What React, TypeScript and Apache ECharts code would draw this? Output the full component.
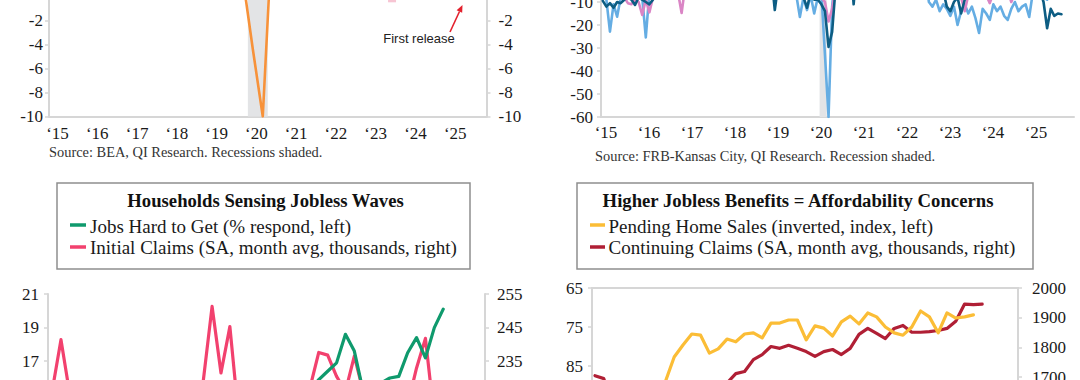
import React, { useEffect, useRef } from 'react';
import * as echarts from 'echarts';

const SERIF = '"Liberation Serif", "Times New Roman", serif';
const SANS = '"Liberation Sans", Arial, sans-serif';

// ---------- Panel 1 (top left): quarterly growth, from 2015Q1 ----------
const gdpFirstQuarter = '2015Q1';
const gdpGrowth = [
  3.3, 3.3, 1.3, 0.6, // 2015
  2.4, 1.2, 2.4, 2.0, // 2016
  2.0, 2.3, 3.2, 4.6, // 2017
  3.3, 2.1, 2.5, 0.6, // 2018
  2.2, 3.4, 4.6, 1.5, // 2019
  -4.4, -10.0, 6.3, 4.2, // 2020
  5.2, 6.2, 3.3, 7.0, // 2021
  1.2, 0.8, 2.7, 3.4, // 2022
  2.8, 2.4, 4.4, 3.2, // 2023
  1.6, 3.0, 3.1, 2.4, // 2024
  0.5, 3.3, // 2025
];
const gdpRecession = ['2020Q1', '2020Q2'];
const firstReleaseMark = [{ quarter: '2023Q3', value: -0.15 }];

const yearTickStart = 2015;
const yearTickLabels = ['‘15', '‘16', '‘17', '‘18', '‘19', '‘20', '‘21', '‘22', '‘23', '‘24', '‘25'];

// ---------- Panel 2 (top right): monthly survey indexes, from 2015-01 ----------
const kcFirstMonth = '2015-01';
const kcLight = [
  -5, -9, -22.9, -11, -16.4, -8, -7, -6, -8, -7, -6, -8, // 2015
  -25.4, -6, -4, -3, -5, -4, -2, -1, 2, 3, 5, 6, // 2016
  10, 14, 20, 12, 15, 18, 16, 20, 22, 18, 20, 24, // 2017
  22, 20, 25, 28, 26, 22, 20, 18, 16, 12, 10, 8, // 2018
  3, 2, 1, -2, -4, -6, -7, -16.5, -8, -13.5, -7, -15, // 2019
  -8, -6, -33, -60, -12, 5, 10, 15, 18, 20, 22, 25, // 2020
  28, 30, 35, 38, 40, 36, 34, 30, 32, 28, 26, 30, // 2021
  25, 22, 20, 18, 12, 8, 2, -10, -12, -9, -14, -11, // 2022
  -13, -16, -12, -20, -14, -11, -15, -12, -17, -23.5, -13, -15, // 2023
  -17.8, -11, -14, -12, -16, -17.8, -13, -10, -14, -12, -11, -16.5, // 2024
  -6, 2, -4, -8, -9, -3, 0, 2, -2, // 2025
];
const kcDark = [
  -9.5, -12, -10.5, -12.5, -10, -10.5, -9, -8, -9, -11.3, -8, -9, // 2015
  -10, -11, -9, -6, -5, -4, -3, -2, 0, 1, 2, 3, // 2016
  6, 8, 12, 10, 11, 13, 12, 14, 15, 13, 14, 16, // 2017
  15, 14, 16, 18, 17, 15, 13, 12, 10, 8, 6, 2, // 2018
  -13.5, -2, -3, -5, -6, -7, -8, -7, -8, -12.5, -6, -9, // 2019
  -9, -11, -14, -29.5, -23, -3, 2, 6, 8, 10, -11, 6, // 2020
  12, 15, 18, 20, 22, 20, 19, 17, 18, 16, 15, 17, // 2021
  14, 12, 10, 8, 5, 2, -2, -5, -6, -4, -7, -5, // 2022
  -12, -14, -10, -8, -15, -9, -7, -6, -8, -5, -7, -6, // 2023
  -8, -6, -5, -7, -6, -5, -4, -6, -5, -3, -2, -4, // 2024
  -3, -2, -5, -10, -21.4, -13, -16, -15, -15.3, // 2025
];
const kcPink = [
  -4, -5, -6, -7, -5, -6, -8, -10.5, -11, -9, -10, -15.6, // 2015
  -9, -14.5, -8, -6, -5, -4, -3, -4, -5, -6, -14.8, -3, // 2016
  2, 5, 8, 6, 7, 9, 8, 10, 11, 9, 10, 12, // 2017
  12, 11, 13, 14, 13, 12, 10, 9, 8, 6, 5, 3, // 2018
  0, -1, -2, -3, -4, -5, -6, -5, -6, -7, -5, -8, // 2019
  -7, -8, -10, -18.5, -13, -3, 2, 5, 6, 8, 7, 9, // 2020
  10, 12, 14, 16, 18, 17, 16, 15, 16, 14, 13, 15, // 2021
  12, 10, 9, 7, 5, 3, 0, -3, -4, -2, -5, -4, // 2022
  -6, -7, -5, -6, -8, -14, -7, -6, -8, -5, -6, -7, // 2023
  -10.5, -6, -5, -7, -6, -5, -10, -6, -5, -4, -6, -5, // 2024
  -4, -3, -6, -7, -5, -6, -7, -5, -6, // 2025
];
const kcRecession = ['2020-02', '2020-04'];

// ---------- Panels 3 & 4 (bottom): monthly, from 2021-12 ----------
const recentFirstMonth = '2021-12';
const jobsHardToGet = [
  11.4, // 2021-12
  11.6, 11.9, 11.2, 11.0, 11.3, 11.6, 11.1, 11.2, 12.0, 12.4, 12.1, 12.5, // 2022
  12.8, 12.1, 12.9, 12.8, 14.2, 14.4, 13.8, 14.0, 15.1, 14.5, 14.8, 14.3, // 2023
  14.9, 14.5, 14.4, 13.9, 15.3, 15.9, 16.4, 16.9, 18.6, 17.6, 15.2, 15.0, // 2024
  15.7, 16.0, 16.1, 17.5, 18.4, 17.2, 19.0, 20.1, // 2025
];
const initialClaims = [
  226, // 2021-12
  241.4, 225, 205, 195, 205, 222, 218, 212, 205, 215, 222, 216, // 2022
  200, 196, 210, 222, 229, 251.3, 231.5, 245.3, 218, 210, 214, 212, // 2023
  205, 210, 212, 215, 227, 237.6, 236.8, 230.5, 226, 236.5, 226, 222, // 2024
  220, 218, 225, 222, 233, 241.8, 218, 226, // 2025
];
const pendingHomeSales = [
  112, // 2021-12
  108, 104, 103, 100, 100, 91, 90, 89, 82.7, 79.6, 76.8, 77.1, // 2022
  81.7, 80.6, 78.1, 78.8, 76.8, 76.5, 77.8, 74.0, 74.0, 73.2, 73.2, 78.3, // 2023
  74.7, 75.3, 77.3, 73.7, 72.2, 74.2, 71.4, 72.4, 75.0, 76.5, 77.1, 75.0, // 2024
  70.9, 72.4, 76.5, 71.4, 72.7, 72.4, 71.9, null, // 2025
];
const continuingClaims = [
  1705, // 2021-12
  1695, 1600, 1480, 1410, 1350, 1360, 1380, 1400, 1380, 1390, 1480, 1620, // 2022
  1660, 1640, 1680, 1712, 1719, 1759, 1776, 1803, 1797, 1807, 1797, 1786, // 2023
  1770, 1786, 1793, 1776, 1797, 1844, 1864, 1847, 1830, 1864, 1874, 1851, // 2024
  1851, 1853, 1857, 1864, 1888, 1946, 1944, 1946, // 2025
];

// ---------- styles ----------
const ORANGE = '#f7923a';
const KC_LIGHT = '#65ade3';
const KC_DARK = '#0d5d83';
const KC_PINK = '#da85c5';
const GREEN = '#0f9a6d';
const ROSE = '#f2416e';
const GOLD = '#fbbd36';
const CRIMSON = '#b01f35';
const SHADE = '#e3e4e6';
const AXIS = '#d6d6d6';
const BOX = '#8e8e8e';
const LABEL = '#1a1a1a';

const quarterParts = (q: string) => q.split('Q').map(Number);
const quarterStart = (q: string) => { const [y, n] = quarterParts(q); return y + (n - 1) / 4; };
const quarterEnd = (q: string) => { const [y, n] = quarterParts(q); return y + n / 4; };
const quarterMid = (q: string) => (quarterStart(q) + quarterEnd(q)) / 2;
const monthStart = (m: string) => { const [y, n] = m.split('-').map(Number); return y + (n - 1) / 12; };
const monthMid = (m: string) => monthStart(m) + 1 / 24;

// labels of ticks that lie below the visible page are left blank
const labelIf = (test: (v: number) => boolean) => (v: number) => (test(v) ? String(v) : '');

function buildOption(): any {
  const q0 = quarterMid(gdpFirstQuarter);
  const gdpData = gdpGrowth.map((v, i) => [q0 + i / 4, v]);
  const markData = firstReleaseMark.map((d) => [quarterMid(d.quarter), d.value]);
  const m0 = monthMid(kcFirstMonth);
  const toKc = (arr: number[]) => arr.map((v, i) => [m0 + i / 12, v]);
  const toRecent = (arr: (number | null)[]) => arr.map((v, i) => [i, v]);
  void recentFirstMonth;

  const yearLabel = (v: number) => yearTickLabels[Math.round(v) - yearTickStart] ?? '';

  const xYear = (gridIndex: number, pad: number, margin: number) => ({
    type: 'value', gridIndex, min: 2015, max: 2026, interval: 1,
    splitLine: { show: false },
    axisLine: { show: true, onZero: false, lineStyle: { color: AXIS, width: 2 } },
    axisTick: { show: false },
    axisLabel: {
      formatter: yearLabel, fontFamily: SERIF, fontSize: 17, color: LABEL,
      margin, padding: [0, 0, 0, pad], showMinLabel: true, showMaxLabel: true,
    },
  });

  const yAx = (o: any) => ({
    type: 'value',
    splitLine: { show: false },
    axisLine: { show: true, onZero: false, lineStyle: { color: AXIS, width: 2 } },
    axisTick: { show: true, length: 4, lineStyle: { color: AXIS, width: 1.5 } },
    ...o,
    axisLabel: { fontFamily: SERIF, fontSize: 17, color: LABEL, formatter: (v: number) => String(v), ...o.axisLabel },
  });

  const line = (name: string, xi: number, yi: number, data: any[], color: string, width: number, z = 3) => ({
    type: 'line', name, xAxisIndex: xi, yAxisIndex: yi, data,
    symbol: 'none', showSymbol: false, z,
    lineStyle: { color, width, join: 'round', cap: 'round' },
    itemStyle: { color },
    emphasis: { disabled: true },
  });

  const shadeSeries = (xi: number, yi: number, from: number, to: number) => ({
    type: 'line', xAxisIndex: xi, yAxisIndex: yi, data: [], z: 1, silent: true,
    markArea: {
      silent: true, label: { show: false },
      itemStyle: { color: SHADE, opacity: 1 },
      data: [[{ xAxis: from }, { xAxis: to }]],
    },
  });

  const txt = (text: string, x: number, y: number, size: number, opts: any = {}) => ({
    type: 'text', x, y, silent: true,
    style: {
      text, fill: opts.fill ?? LABEL, fontSize: size, fontFamily: opts.family ?? SERIF,
      fontWeight: opts.weight ?? 'normal',
      align: opts.align ?? 'left', textAlign: opts.align ?? 'left',
      verticalAlign: 'middle', textVerticalAlign: 'middle',
    },
  });
  const dash = (x1: number, x2: number, y: number, color: string) => ({
    type: 'line', silent: true, shape: { x1, y1: y, x2, y2: y }, style: { stroke: color, lineWidth: 3.5 },
  });
  const box = (x: number, y: number, w: number, h: number) => ({
    type: 'rect', silent: true, shape: { x, y, width: w, height: h },
    style: { fill: '#fff', stroke: BOX, lineWidth: 1.5 },
  });

  const graphic = [
    // sources
    txt('Source: BEA, QI Research. Recessions shaded.', 49, 152, 14.4, { fill: '#333' }),
    txt('Source: FRB-Kansas City, QI Research. Recession shaded.', 595, 155.5, 14.4, { fill: '#333' }),
    // annotation
    txt('First release', 419, 38.5, 13, { family: SANS, align: 'center', fill: '#222' }),
    { type: 'line', silent: true, shape: { x1: 450, y1: 32, x2: 459.5, y2: 11.5 }, style: { stroke: '#e3212d', lineWidth: 1.6 } },
    { type: 'polygon', silent: true, shape: { points: [[462.5, 5], [462.2, 12.8], [456.6, 10.2]] }, style: { fill: '#e3212d' } },
    // panel 3 header
    box(57, 183, 413, 86),
    txt('Households Sensing Jobless Waves', 265.5, 200, 18.7, { weight: 'bold', align: 'center', fill: '#111' }),
    dash(70, 86, 225, GREEN),
    txt('Jobs Hard to Get (% respond, left)', 90, 226.5, 19),
    dash(70, 86, 247, ROSE),
    txt('Initial Claims (SA, month avg, thousands, right)', 90, 247, 19),
    // panel 4 header
    box(577, 183, 456, 86),
    txt('Higher Jobless Benefits = Affordability Concerns', 798, 200, 18.7, { weight: 'bold', align: 'center', fill: '#111' }),
    dash(590, 605, 225, GOLD),
    txt('Pending Home Sales (inverted, index, left)', 608.5, 226.5, 19),
    dash(590, 605, 247, CRIMSON),
    txt('Continuing Claims (SA, month avg, thousands, right)', 608.5, 247, 19),
  ];

  return {
    animation: false,
    backgroundColor: '#fff',
    grid: [
      { left: 49, top: -3.5, width: 437.5, height: 120, outerBoundsMode: 'none' },
      { left: 601, top: -21, width: 473, height: 138, outerBoundsMode: 'none' },
      { left: 48, top: 294, width: 437, height: 168, outerBoundsMode: 'none' },
      { left: 592, top: 288, width: 426, height: 208, outerBoundsMode: 'none' },
    ],
    xAxis: [
      xYear(0, 17, 8),
      xYear(1, 10, 7),
      { type: 'value', gridIndex: 2, min: -0.46, max: 48.7, show: false },
      {
        type: 'value', gridIndex: 3, min: -0.34, max: 48.07, position: 'top',
        splitLine: { show: false }, axisTick: { show: false }, axisLabel: { show: false },
        axisLine: { show: true, onZero: false, lineStyle: { color: AXIS, width: 2 } },
      },
    ],
    yAxis: [
      yAx({ gridIndex: 0, position: 'left', min: -10, max: 0, interval: 2, axisLabel: { margin: 6, showMaxLabel: false } }),
      yAx({ gridIndex: 0, position: 'right', min: -10, max: 0, interval: 2, axisLabel: { margin: 12, showMaxLabel: false } }),
      yAx({ gridIndex: 1, position: 'left', min: -60, max: 0, interval: 10, axisLabel: { margin: 8, showMaxLabel: false } }),
      yAx({ gridIndex: 2, position: 'left', min: 11, max: 21, interval: 2, axisLabel: { margin: 9, formatter: labelIf((v) => v >= 17) } }),
      yAx({ gridIndex: 2, position: 'right', min: 205, max: 255, interval: 10, axisLabel: { margin: 12, formatter: labelIf((v) => v >= 235) } }),
      yAx({ gridIndex: 3, position: 'left', min: 65, max: 65 + 208 / 3.9, inverse: true, interval: 10, axisLabel: { margin: 9, showMaxLabel: false, formatter: labelIf((v) => v <= 85) } }),
      yAx({ gridIndex: 3, position: 'right', min: 1300, max: 2000, interval: 100, axisLabel: { margin: 14, formatter: labelIf((v) => v >= 1700) } }),
    ],
    series: [
      shadeSeries(0, 0, quarterStart(gdpRecession[0]), quarterEnd(gdpRecession[1])),
      line('Real GDP growth', 0, 0, gdpData, ORANGE, 2.6),
      {
        type: 'scatter', name: 'First release', xAxisIndex: 0, yAxisIndex: 0, data: markData,
        symbol: 'rect', symbolSize: 8, itemStyle: { color: '#f5b7c8' }, z: 4, silent: true,
      },
      shadeSeries(1, 2, monthStart(kcRecession[0]), monthStart(kcRecession[1])),
      line('Survey index (light blue)', 1, 2, toKc(kcLight), KC_LIGHT, 2.6),
      line('Survey index (pink)', 1, 2, toKc(kcPink), KC_PINK, 2.6),
      line('Survey index (dark blue)', 1, 2, toKc(kcDark), KC_DARK, 2.6),
      line('Initial Claims', 2, 4, toRecent(initialClaims), ROSE, 3.2),
      line('Jobs Hard to Get', 2, 3, toRecent(jobsHardToGet), GREEN, 3.2),
      line('Continuing Claims', 3, 6, toRecent(continuingClaims), CRIMSON, 3.2),
      line('Pending Home Sales', 3, 5, toRecent(pendingHomeSales), GOLD, 3.2),
    ],
    graphic,
  };
}

export default function App() {
  const ref = useRef<HTMLDivElement>(null);
  useEffect(() => {
    if (!ref.current) return;
    const chart = echarts.init(ref.current, undefined, { renderer: 'svg' });
    chart.setOption(buildOption());
    return () => chart.dispose();
  }, []);
  return (
    <div
      ref={ref}
      style={{ position: 'fixed', left: 0, top: 0, width: 1080, height: 380, background: '#fff' }}
    />
  );
}
